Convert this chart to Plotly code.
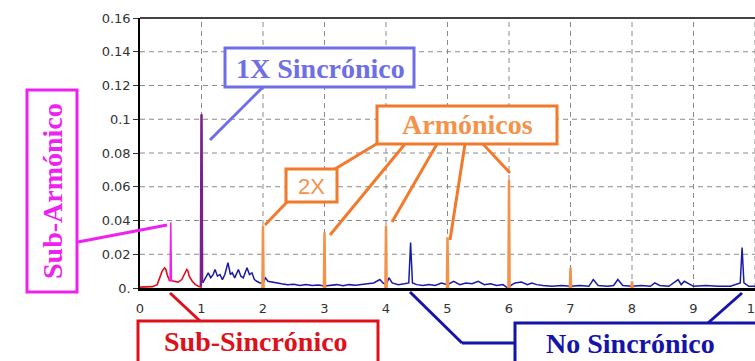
import plotly.graph_objects as go

# ---- spectrum data: frequency in orders of running speed (X), amplitude ----
sub_sync_freq = [0.0, 0.10, 0.20, 0.28, 0.32, 0.36, 0.40, 0.42, 0.45, 0.48,
                 0.55, 0.62, 0.68, 0.72, 0.76, 0.78, 0.80, 0.85, 0.90, 0.95, 1.0]
sub_sync_amp = [0.0005, 0.0005, 0.0008, 0.002, 0.006, 0.010, 0.012, 0.011, 0.007, 0.0045,
                0.004, 0.0035, 0.005, 0.008, 0.011, 0.010, 0.007, 0.004, 0.002, 0.001, 0.0005]

sub_harm_freq = [0.47, 0.49, 0.50, 0.51, 0.53]
sub_harm_amp = [0.004, 0.005, 0.039, 0.005, 0.004]

sync_freq = [0.99, 1.0, 1.01]
sync_amp = [0.001, 0.103, 0.003]

nonsync_freq = [1.02, 1.06, 1.11, 1.15, 1.19, 1.22, 1.26, 1.30, 1.34, 1.38,
                1.43, 1.47, 1.50, 1.54, 1.60, 1.64, 1.68, 1.74, 1.78, 1.82,
                1.86, 1.90, 1.95, 2.00, 2.04, 2.08, 2.14, 2.20, 2.30, 2.40,
                2.50, 2.60, 2.70, 2.80, 2.90, 3.00, 3.10, 3.20, 3.30, 3.40,
                3.50, 3.60, 3.70, 3.80, 3.90, 3.95, 4.00, 4.05, 4.10, 4.20,
                4.30, 4.37, 4.40, 4.43, 4.50, 4.60, 4.70, 4.80, 4.90, 5.00,
                5.10, 5.20, 5.30, 5.40, 5.50, 5.60, 5.70, 5.80, 5.90, 5.98,
                6.05, 6.10, 6.20, 6.30, 6.37, 6.45, 6.55, 6.70, 6.85, 7.00,
                7.15, 7.30, 7.37, 7.45, 7.60, 7.70, 7.77, 7.85, 8.00, 8.15,
                8.30, 8.37, 8.45, 8.60, 8.75, 8.80, 8.85, 9.00, 9.20, 9.40,
                9.60, 9.70, 9.76, 9.79, 9.82, 9.90, 10.0]
nonsync_amp = [0.003, 0.006, 0.009, 0.006, 0.008, 0.011, 0.007, 0.008, 0.005, 0.008,
               0.015, 0.008, 0.009, 0.006, 0.011, 0.007, 0.006, 0.012, 0.008, 0.009,
               0.005, 0.004, 0.003, 0.003, 0.006, 0.004, 0.0035, 0.003, 0.0025, 0.002,
               0.0022, 0.0015, 0.002, 0.0015, 0.0018, 0.0012, 0.0015, 0.002, 0.0014, 0.002,
               0.0016, 0.002, 0.0025, 0.003, 0.005, 0.003, 0.002, 0.006, 0.003, 0.002,
               0.0025, 0.003, 0.027, 0.003, 0.002, 0.0015, 0.002, 0.0015, 0.003, 0.002,
               0.004, 0.002, 0.003, 0.0025, 0.004, 0.002, 0.0025, 0.0015, 0.002, 0.0,
               0.002, 0.003, 0.0035, 0.002, 0.003, 0.002, 0.0015, 0.001, 0.0015, 0.001,
               0.0015, 0.001, 0.005, 0.0015, 0.001, 0.0015, 0.005, 0.0015, 0.001, 0.0015,
               0.001, 0.003, 0.0015, 0.001, 0.005, 0.002, 0.004, 0.001, 0.0015, 0.001,
               0.001, 0.002, 0.003, 0.024, 0.003, 0.001, 0.001]

harm_orders = [2, 3, 4, 5, 6, 7, 8]
harm_amp = [0.037, 0.033, 0.037, 0.030, 0.064, 0.012, 0.004]

x_tick_vals = [0, 1, 2, 3, 4, 5, 6, 7, 8, 9, 10]
y_tick_vals = [0, 0.02, 0.04, 0.06, 0.08, 0.10, 0.12, 0.14, 0.16]
y_tick_text = ["0.", "0.02", "0.04", "0.06", "0.08", "0.1", "0.12", "0.14", "0.16"]

# ---- page geometry ----
W, H = 755, 361
ML, MT, MB = 140, 18, 73
PW, PH = W - ML, H - MT - MB

BLUE = "#1a1aa8"
RED = "#e0101a"
MAGENTA = "#ee22ee"
PURPLE = "#7b1f8f"
ORANGE = "#f5924a"
ORANGE_BOX = "#f27a2c"
LILAC = "#6e6ee6"
DARK_BLUE = "#1414a8"
GRID = "#8a8a8a"


def px(x):
    return (x - ML) / PW


def py(y):
    return (MT + PH - y) / PH


# harmonic spikes, each drawn as a narrow peak at its order
hx, hy = [], []
for o, a in zip(harm_orders, harm_amp):
    hx += [o - 0.01, o, o + 0.01, None]
    hy += [0, a, 0, None]

fig = go.Figure()
fig.add_trace(go.Scatter(x=nonsync_freq, y=nonsync_amp, mode="lines",
                         line=dict(color=BLUE, width=1.5), name="No Sincrónico"))
fig.add_trace(go.Scatter(x=sub_sync_freq, y=sub_sync_amp, mode="lines",
                         line=dict(color=RED, width=1.6), name="Sub-Sincrónico"))
fig.add_trace(go.Scatter(x=hx, y=hy, mode="lines",
                         line=dict(color=ORANGE, width=2.5), name="Armónicos"))
fig.add_trace(go.Scatter(x=sub_harm_freq, y=sub_harm_amp, mode="lines",
                         line=dict(color=MAGENTA, width=1.6), name="Sub-Armónico"))
fig.add_trace(go.Scatter(x=sync_freq, y=sync_amp, mode="lines",
                         line=dict(color=PURPLE, width=2.5), name="1X"))

shapes = []

# dashed grid drawn beneath the traces
for v in x_tick_vals[1:]:
    shapes.append(dict(type="line", xref="x", yref="paper", x0=v, x1=v, y0=0, y1=1,
                       line=dict(color=GRID, width=1, dash="5px,4px"), layer="below"))
for v in y_tick_vals[1:]:
    shapes.append(dict(type="line", xref="paper", yref="y", x0=0, x1=1, y0=v, y1=v,
                       line=dict(color=GRID, width=1, dash="5px,4px"), layer="below"))


def seg(points, color, width=3):
    for (x0, y0), (x1, y1) in zip(points[:-1], points[1:]):
        shapes.append(dict(type="line", xref="paper", yref="paper",
                           x0=px(x0), y0=py(y0), x1=px(x1), y1=py(y1),
                           line=dict(color=color, width=width), layer="above"))


def rect(x0, y0, x1, y1, color, width=3):
    shapes.append(dict(type="rect", xref="paper", yref="paper",
                       x0=px(x0), y0=py(y0), x1=px(x1), y1=py(y1),
                       line=dict(color=color, width=width),
                       fillcolor="white", layer="above"))


# top frame line
shapes.append(dict(type="line", xref="paper", yref="paper", x0=0, x1=1, y0=1, y1=1,
                   line=dict(color="#444444", width=2)))

# leader lines
seg([(78, 242), (167, 225)], MAGENTA)
seg([(263, 87), (210, 140)], LILAC)
seg([(287, 202), (265, 225)], ORANGE_BOX)
seg([(378, 143), (335, 169)], ORANGE_BOX)
seg([(405, 144), (330, 235)], ORANGE_BOX)
seg([(437, 144), (392, 222)], ORANGE_BOX)
seg([(465, 144), (450, 240)], ORANGE_BOX)
seg([(483, 144), (510, 173)], ORANGE_BOX)
seg([(170, 293), (200, 321)], RED)
seg([(410, 292), (462, 343), (515, 343)], DARK_BLUE)
seg([(708, 323), (742, 293)], DARK_BLUE)

# label boxes
rect(27, 90, 77, 292, MAGENTA)
rect(225, 48, 414, 87, LILAC)
rect(377, 106, 557, 144, ORANGE_BOX)
rect(286, 169, 337, 202, ORANGE_BOX)
rect(138, 321, 378, 366, RED)
rect(515, 323, 790, 366, DARK_BLUE)

SERIF = "'Liberation Serif', 'Times New Roman', 'DejaVu Serif', serif"
SANS = "'Liberation Sans', Arial, sans-serif"
annotations = []


def label(text, cx, cy, color, size=28, family=SERIF, bold=True, angle=0):
    annotations.append(dict(
        text=f"<b>{text}</b>" if bold else text,
        xref="paper", yref="paper", x=px(cx), y=py(cy),
        xanchor="center", yanchor="middle", showarrow=False,
        textangle=angle, font=dict(family=family, size=size, color=color)))


label("Sub-Armónico", 52, 191, MAGENTA, angle=-90)
label("1X Sincrónico", 320, 68, LILAC)
label("Armónicos", 467, 125, ORANGE)
label("2X", 311, 186, ORANGE, size=22, family=SANS, bold=False)
label("Sub-Sincrónico", 256, 341, RED)
label("No Sincrónico", 630, 343, DARK_BLUE)

axis_font = dict(family="DejaVu Sans", size=13, color="#333333")

fig.update_layout(
    width=W, height=H,
    margin=dict(l=ML, r=0, t=MT, b=MB, autoexpand=False),
    paper_bgcolor="white", plot_bgcolor="white",
    showlegend=False,
    shapes=shapes, annotations=annotations,
    xaxis=dict(range=[0, 10], tickvals=x_tick_vals, ticks="", ticklabelstandoff=7,
               ticklabeloverflow="allow", automargin=False,
               showgrid=False, zeroline=False,
               showline=True, linecolor="black", linewidth=2.5, tickfont=axis_font),
    yaxis=dict(range=[0, 0.16], tickvals=y_tick_vals, ticktext=y_tick_text,
               ticks="outside", ticklen=5, tickcolor="#333333", automargin=False,
               showgrid=False, zeroline=False,
               showline=True, linecolor="black", linewidth=1.5, tickfont=axis_font),
)

fig.write_html("out.html")
